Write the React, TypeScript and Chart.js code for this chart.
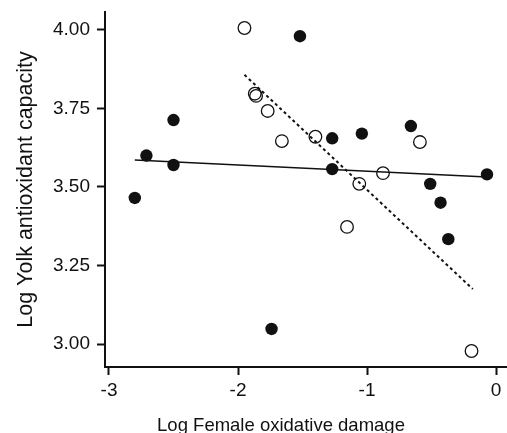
import React, { useEffect, useRef } from "react";
import { Chart, registerables } from "chart.js";

Chart.register(...registerables);

// ---- data ----
const xTicks = [-3, -2, -1, 0];
const yTicks = [3.0, 3.25, 3.5, 3.75, 4.0];

const filledX = [-2.8, -2.71, -2.5, -2.5, -1.52, -1.27, -1.04, -0.66, -1.27, -0.51, -0.43, -0.07, -0.37, -1.74];
const filledY = [3.465, 3.6, 3.713, 3.57, 3.98, 3.655, 3.67, 3.694, 3.557, 3.51, 3.45, 3.54, 3.334, 3.048];

const openX = [-1.95, -1.87, -1.86, -1.77, -1.66, -1.4, -0.59, -0.876, -1.06, -1.155, -0.19];
const openY = [4.006, 3.797, 3.79, 3.742, 3.646, 3.66, 3.643, 3.544, 3.51, 3.373, 2.978];

const solidLineX = [-2.8, -0.07];
const solidLineY = [3.586, 3.532];

const dashedLineX = [-1.95, -0.18];
const dashedLineY = [3.857, 3.175];

const xTitle = "Log Female oxidative damage";
const yTitle = "Log Yolk antioxidant capacity";

const toPts = (xs: number[], ys: number[]) => xs.map((x, i) => ({ x, y: ys[i] }));

const FONT = "'Liberation Sans', Arial, sans-serif";
const INK = "#111";

export default function App() {
  const ref = useRef<HTMLCanvasElement | null>(null);

  useEffect(() => {
    if (!ref.current) return;
    const xTitlePlugin = {
      id: "xTitle",
      afterDraw(chart: any) {
        const ctx = chart.ctx;
        ctx.save();
        ctx.fillStyle = INK;
        ctx.font = `18.5px ${FONT}`;
        ctx.textAlign = "center";
        ctx.textBaseline = "middle";
        ctx.fillText(xTitle, 281, 426);
        ctx.restore();
      },
    };
    const chart = new Chart(ref.current, {
      type: "scatter",
      data: {
        datasets: [
          {
            label: "solid",
            data: toPts(solidLineX, solidLineY),
            showLine: true,
            borderColor: INK,
            borderWidth: 1.6,
            pointRadius: 0,
            order: 0,
          },
          {
            label: "dashed",
            data: toPts(dashedLineX, dashedLineY),
            showLine: true,
            borderColor: INK,
            borderWidth: 2,
            borderDash: [3, 3],
            pointRadius: 0,
            order: 0,
          },
          {
            label: "open",
            data: toPts(openX, openY),
            backgroundColor: "rgba(255,255,255,0)",
            borderColor: INK,
            borderWidth: 1.3,
            pointRadius: 6.3,
            order: 1,
          },
          {
            label: "filled",
            data: toPts(filledX, filledY),
            backgroundColor: INK,
            borderColor: INK,
            borderWidth: 0,
            pointRadius: 6.2,
            order: 1,
          },
        ],
      },
      options: {
        responsive: false,
        animation: false,
        layout: { autoPadding: false, padding: { left: 0, right: 0, top: 12, bottom: 0 } },
        plugins: {
          legend: { display: false },
          tooltip: { enabled: false },
        },
        scales: {
          x: {
            type: "linear",
            min: -3.031,
            max: 0.085,
            afterFit: (s: any) => {
              s.height = 83;
              s.paddingLeft = 0;
              s.paddingRight = 0;
            },
            afterBuildTicks: (s: any) => {
              s.ticks = xTicks.map((v) => ({ value: v }));
            },
            grid: {
              drawOnChartArea: false,
              drawTicks: true,
              tickLength: 8,
              tickWidth: 2,
              tickColor: INK,
            },
            border: { display: true, color: INK, width: 2 },
            ticks: {
              color: INK,
              font: { family: FONT, size: 19 },
              padding: 4,
              maxRotation: 0,
              callback: (v: any) => String(v),
            },
            title: { display: false },
          },
          y: {
            type: "linear",
            min: 2.927,
            max: 4.057,
            afterFit: (s: any) => {
              s.width = 105;
              s.paddingTop = 0;
              s.paddingBottom = 0;
            },
            afterBuildTicks: (s: any) => {
              s.ticks = yTicks.map((v) => ({ value: v }));
            },
            grid: {
              drawOnChartArea: false,
              drawTicks: true,
              tickLength: 8,
              tickWidth: 2,
              tickColor: INK,
            },
            border: { display: true, color: INK, width: 2 },
            ticks: {
              color: INK,
              font: { family: FONT, size: 19 },
              padding: 7,
              callback: (v: any) => Number(v).toFixed(2),
            },
            title: {
              display: true,
              text: yTitle,
              color: INK,
              font: { family: FONT, size: 21.5 },
              padding: { top: 13.5, bottom: 0 },
            },
          },
        },
      },
      plugins: [xTitlePlugin],
    });
    return () => chart.destroy();
  }, []);

  return (
    <div style={{ position: "fixed", left: 0, top: 0, width: 507, height: 450, background: "#fff" }}>
      <canvas ref={ref} width={507} height={450} style={{ display: "block" }} />
    </div>
  );
}
